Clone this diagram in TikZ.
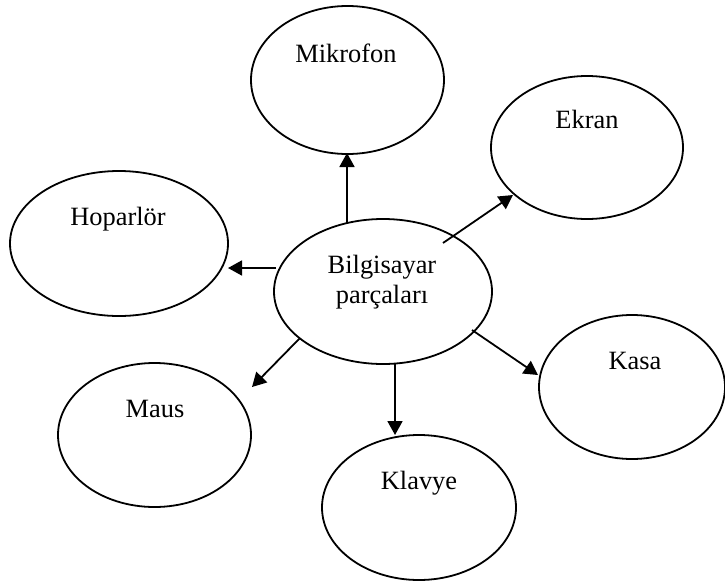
\documentclass[tikz,border=0pt]{standalone}
\usepackage{fontspec}
\setmainfont{Liberation Serif}
\usetikzlibrary{shapes.geometric,arrows.meta}

\begin{document}
\begin{tikzpicture}[x=1pt,y=-1pt,
  oval/.style={draw,ellipse,line width=1.8pt,inner sep=0pt,
    minimum width=#1},
  oval/.default=193pt,
  word/.style={anchor=base,inner sep=0pt,font=\fontsize{26.4}{30}\selectfont},
  arr/.style={line width=1.8pt,-{Triangle[length=14pt,width=15pt]}}]
\useasboundingbox (0,0) rectangle (725,581);

% concept ovals
\node[oval=193pt,minimum height=148pt] (mik) at (347.5,80) {};
\node[oval=192pt,minimum height=143pt] (ekr) at (587,147.5) {};
\node[oval=218pt,minimum height=145pt] (hop) at (119,243.5) {};
\node[oval=218pt,minimum height=145pt] (bil) at (383,291.5) {};
\node[oval=186pt,minimum height=144pt] (kas) at (632,387) {};
\node[oval=193pt,minimum height=144pt] (mau) at (154.5,435) {};
\node[oval=194pt,minimum height=145pt] (kla) at (419,507.5) {};

% labels
\node[word] (mik-t) at (346,62) {Mikrofon};
\node[word] (ekr-t) at (587,128) {Ekran};
\node[word] (hop-t) at (118,225) {Hoparlör};
\node[word] (bil-t1) at (382,273) {Bilgisayar};
\node[word] (bil-t2) at (382,303) {parçaları};
\node[word] (kas-t) at (635,369) {Kasa};
\node[word] (mau-t) at (155,417) {Maus};
\node[word] (kla-t) at (419,489) {Klavye};

% arrows from the centre oval
\draw[arr] ([shift={(-36,-68.5)}]bil.center) -- ([shift={(-0.5,73)}]mik.center);
\draw[arr] ([shift={(60,-48.5)}]bil.center) -- ([shift={(-74,47.5)}]ekr.center);
\draw[arr] ([shift={(-107,-23.5)}]bil.center) -- ([shift={(109,24.5)}]hop.center);
\draw[arr] ([shift={(-83,46.5)}]bil.center) -- ([shift={(97.5,-48)}]mau.center);
\draw[arr] ([shift={(12,71.5)}]bil.center) -- ([shift={(-24,-72.5)}]kla.center);
\draw[arr] ([shift={(89,38.5)}]bil.center) -- ([shift={(-94,-12)}]kas.center);
\end{tikzpicture}
\end{document}
